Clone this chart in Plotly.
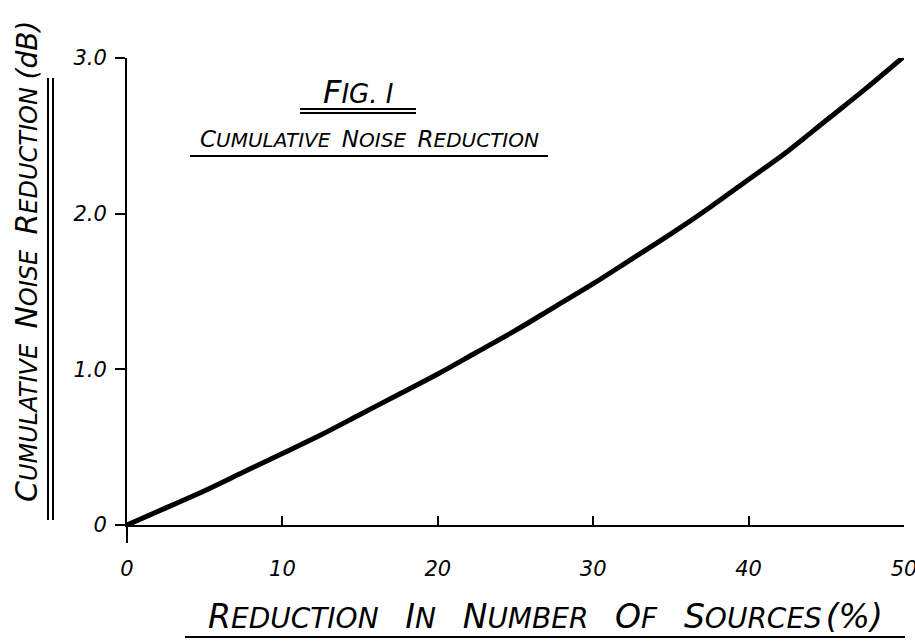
import plotly.graph_objects as go

# Data
reduction_pct = [0, 2.5, 5, 7.5, 10, 12.5, 15, 17.5, 20, 22.5, 25, 27.5, 30, 32.5, 35, 37.5, 40, 42.5, 45, 47.5, 50]
noise_db = [0, 0.11, 0.22, 0.34, 0.46, 0.58, 0.71, 0.84, 0.97, 1.11, 1.25, 1.40, 1.55, 1.71, 1.87, 2.04, 2.22, 2.40, 2.60, 2.80, 3.01]
x_ticks = [0, 10, 20, 30, 40, 50]
x_tick_text = ["0", "10", "20", "30", "40", "50"]
y_ticks = [0, 1, 2, 3]
y_tick_text = ["0", "1.0", "2.0", "3.0"]

W, H = 915, 642
L, R, T, B = 127, 11, 58, 117
FONT = "DejaVu Sans"

def px(x):
    return (x - L) / (W - L - R)

def py(y):
    return (H - B - y) / (H - T - B)

def sc(first, rest, big, small):
    return f"<span style='font-size:{big}px'>{first}</span><span style='font-size:{small}px'>{rest}</span>"

def sp(n):
    return "&nbsp;" * n

fig = go.Figure()
fig.add_trace(go.Scatter(x=reduction_pct, y=noise_db, mode="lines",
                         line=dict(color="black", width=5, shape="spline"),
                         hoverinfo="skip", showlegend=False))

fig.update_layout(
    width=W, height=H,
    margin=dict(l=L, r=R, t=T, b=B, autoexpand=False),
    paper_bgcolor="white", plot_bgcolor="white",
    font=dict(family=FONT, color="black"),
    showlegend=False,
)
fig.update_xaxes(range=[0, 50], tickvals=x_ticks, ticktext=["<i>" + t + "</i>" for t in x_tick_text],
                 showgrid=False, zeroline=False, showline=True, linecolor="black", linewidth=2,
                 ticks="inside", ticklen=9, tickwidth=2, tickcolor="black",
                 tickfont=dict(size=21, family=FONT), ticklabelstandoff=24,
                 ticklabeloverflow="allow", automargin=False)
fig.update_yaxes(range=[0, 3], tickvals=y_ticks, ticktext=["<i>" + t + "</i>" for t in y_tick_text],
                 showgrid=False, zeroline=False, showline=True, linecolor="black", linewidth=2,
                 ticks="outside", ticklen=10, tickwidth=2, tickcolor="black",
                 tickfont=dict(size=21, family=FONT), ticklabelstandoff=4, automargin=False)

ann = []
ann.append(dict(text="<i>" + sc("F", "IG. I", 32, 26) + "</i>", x=px(358), y=py(92),
                xref="paper", yref="paper", showarrow=False, xanchor="center", yanchor="middle"))
title2 = sp(3).join(sc(w[0], w[1:], 23, 20) for w in ["CUMULATIVE", "NOISE", "REDUCTION"])
ann.append(dict(text="<i>" + title2 + "</i>", x=px(369), y=py(139),
                xref="paper", yref="paper", showarrow=False, xanchor="center", yanchor="middle"))
xt = sp(7).join(sc(w[0], w[1:], 33, 28) for w in ["REDUCTION", "IN", "NUMBER", "OF", "SOURCES"]) + sp(1) + "<span style='font-size:33px'>(%)</span>"
ann.append(dict(text="<i>" + xt + "</i>", x=px(545), y=py(616),
                xref="paper", yref="paper", showarrow=False, xanchor="center", yanchor="middle"))
yt = sp(4).join(sc(w[0], w[1:], 30, 24) for w in ["CUMULATIVE", "NOISE", "REDUCTION"]) + sp(2) + "<span style='font-size:28px'>(dB)</span>"
ann.append(dict(text="<i>" + yt + "</i>", x=px(26), y=py(262),
                xref="paper", yref="paper", showarrow=False, textangle=-90,
                xanchor="center", yanchor="middle"))
fig.update_layout(annotations=ann)

shapes = []
def seg(x0, y0, x1, y1, w=2):
    shapes.append(dict(type="line", xref="paper", yref="paper",
                       x0=px(x0), y0=py(y0), x1=px(x1), y1=py(y1),
                       line=dict(color="black", width=w)))
seg(300, 109, 416, 109); seg(300, 113, 416, 113)
seg(190, 156, 548, 156)
seg(185, 637, 905, 637)
seg(48, 78, 48, 520); seg(53, 78, 53, 520)
seg(127, 525, 127, 543)
fig.update_layout(shapes=shapes)

fig.write_html("out.html", config={"displayModeBar": False},
               post_script="document.body.style.margin='0';document.body.style.overflow='hidden';")
